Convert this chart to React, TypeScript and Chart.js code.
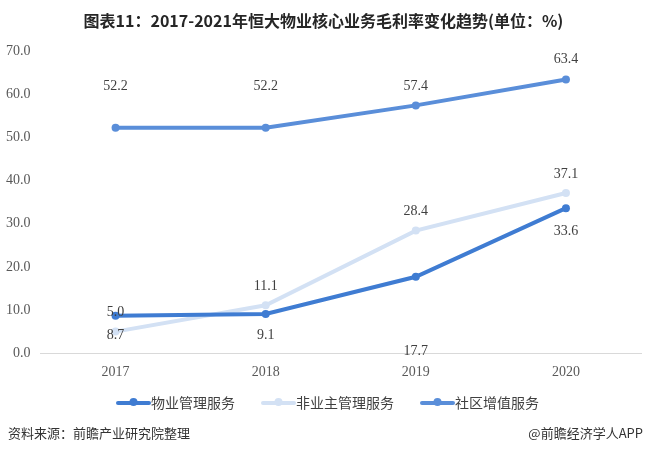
import React, { useEffect, useRef } from "react";
import { Chart, registerables } from "chart.js";

Chart.register(...registerables);

const categories = ["2017", "2018", "2019", "2020"];
const propertyMgmt = [8.7, 9.1, 17.7, 33.6];
const nonOwnerMgmt = [5.0, 11.1, 28.4, 37.1];
const communityValueAdded = [52.2, 52.2, 57.4, 63.4];
const seriesNames = ["物业管理服务", "非业主管理服务", "社区增值服务"];
const yTicks = [0, 10, 20, 30, 40, 50, 60, 70];

const TITLE = "图表11：2017-2021年恒大物业核心业务毛利率变化趋势(单位：%)";
const SOURCE = "资料来源：前瞻产业研究院整理";
const CREDIT = "@前瞻经济学人APP";

const COLORS = ["#3F7CD2", "#D3E1F4", "#5A8ED9"];
// vertical offsets of the value labels (px, negative = above point)
const LABEL_OFFSETS = [
  [20, 21, 75, 23],
  [-19, -19, -19, -19],
  [-42, -42, -19, -20],
];
const LEGEND_SHIFT = { dx: 9, dy: -22 };

function legendIcon(color: string): HTMLCanvasElement {
  const c = document.createElement("canvas");
  c.width = 66;
  c.height = 12;
  const ctx = c.getContext("2d")!;
  ctx.strokeStyle = color;
  ctx.lineWidth = 4;
  ctx.lineCap = "round";
  ctx.beginPath();
  ctx.moveTo(21, 6);
  ctx.lineTo(52, 6);
  ctx.stroke();
  ctx.fillStyle = color;
  ctx.beginPath();
  ctx.arc(36.5, 5, 4, 0, Math.PI * 2);
  ctx.fill();
  return c;
}

const valueLabelPlugin = {
  id: "valueLabels",
  afterLayout(chart: any) {
    const lg = chart.legend;
    if (lg) {
      lg.left += LEGEND_SHIFT.dx;
      lg.right += LEGEND_SHIFT.dx;
      lg.top += LEGEND_SHIFT.dy;
      lg.bottom += LEGEND_SHIFT.dy;
    }
  },
  afterDatasetsDraw(chart: any) {
    const ctx = chart.ctx;
    ctx.save();
    ctx.font = '14px "Liberation Serif", "DejaVu Serif", serif';
    ctx.fillStyle = "#404040";
    ctx.textAlign = "center";
    ctx.textBaseline = "middle";
    chart.data.datasets.forEach((ds: any, di: number) => {
      const meta = chart.getDatasetMeta(di);
      meta.data.forEach((pt: any, i: number) => {
        const v = ds.data[i] as number;
        ctx.fillText(v.toFixed(1), pt.x, pt.y + LABEL_OFFSETS[di][i]);
      });
    });
    ctx.restore();
  },
};

export default function App() {
  const ref = useRef<HTMLCanvasElement>(null);

  useEffect(() => {
    if (!ref.current) return;
    const icons = COLORS.map(legendIcon);
    const series = [propertyMgmt, nonOwnerMgmt, communityValueAdded];
    const chart = new Chart(ref.current, {
      type: "line",
      data: {
        labels: categories,
        datasets: series.map((d, i) => ({
          label: seriesNames[i],
          data: d,
          borderColor: COLORS[i],
          backgroundColor: COLORS[i],
          pointBackgroundColor: COLORS[i],
          pointBorderColor: COLORS[i],
          borderWidth: 4,
          pointRadius: 4,
          pointBorderWidth: 0,
          tension: 0,
          fill: false,
        })),
      },
      options: {
        animation: false,
        responsive: false,
        maintainAspectRatio: false,
        layout: { padding: { top: 51, left: 4, right: 6, bottom: 10 } },
        scales: {
          x: {
            offset: true,
            grid: { display: false, drawTicks: false },
            border: { display: true, color: "#D9D9D9", width: 1 },
            ticks: {
              padding: 11,
              color: "#595959",
              font: { family: '"Liberation Serif", serif', size: 14 },
            },
          },
          y: {
            min: 0,
            max: 70,
            afterBuildTicks: (axis: any) => {
              axis.ticks = yTicks.map((v) => ({ value: v }));
            },
            grid: { display: false, drawTicks: false },
            border: { display: false },
            ticks: {
              padding: 10,
              color: "#595959",
              font: { family: '"Liberation Serif", serif', size: 14 },
              callback: (v: any) => Number(v).toFixed(1),
            },
          },
        },
        plugins: {
          title: { display: false },
          tooltip: { enabled: false },
          legend: {
            position: "bottom",
            labels: {
              usePointStyle: true,
              pointStyleWidth: 28,
              boxHeight: 12,
              padding: 26,
              color: "#404040",
              font: { family: '"Noto Sans CJK SC", sans-serif', size: 14 },
              generateLabels: (ch: any) =>
                ch.data.datasets.map((ds: any, i: number) => ({
                  text: ds.label,
                  pointStyle: icons[i],
                  fillStyle: COLORS[i],
                  strokeStyle: COLORS[i],
                  lineWidth: 0,
                  hidden: false,
                  datasetIndex: i,
                  fontColor: "#404040",
                })),
            },
          },
        },
      },
      plugins: [valueLabelPlugin],
    });
    return () => chart.destroy();
  }, []);

  return (
    <div
      style={{
        position: "absolute",
        left: 0,
        top: 0,
        width: 647,
        height: 452,
        background: "#FFFFFF",
        overflow: "hidden",
      }}
    >
      <canvas ref={ref} width={655} height={452} style={{ position: "absolute", left: -8, top: 0 }} />
      <div
        style={{
          position: "absolute",
          left: 0,
          top: 9,
          width: 647,
          textAlign: "center",
          fontFamily: '"Noto Sans CJK SC", sans-serif',
          fontWeight: "bold",
          fontSize: 16,
          lineHeight: "22px",
          color: "#262626",
          whiteSpace: "nowrap",
        }}
      >
        {TITLE}
      </div>
      <div
        style={{
          position: "absolute",
          left: 8,
          top: 424,
          fontFamily: '"Noto Sans CJK SC", sans-serif',
          fontSize: 13,
          lineHeight: "18px",
          color: "#333333",
          whiteSpace: "nowrap",
        }}
      >
        {SOURCE}
      </div>
      <div
        style={{
          position: "absolute",
          right: 4,
          top: 424,
          fontFamily: '"Noto Sans CJK SC", sans-serif',
          fontSize: 13,
          lineHeight: "18px",
          color: "#333333",
          whiteSpace: "nowrap",
        }}
      >
        {CREDIT}
      </div>
    </div>
  );
}
